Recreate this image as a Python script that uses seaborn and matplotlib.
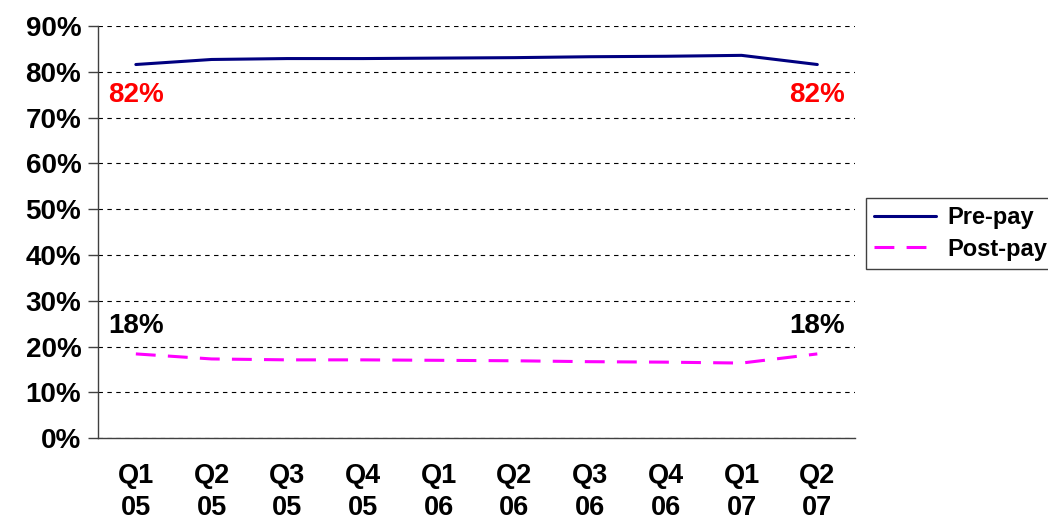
import pandas as pd
import matplotlib.pyplot as plt
import seaborn as sns
from matplotlib.ticker import FixedLocator, PercentFormatter

# Data
quarters = ["Q1\n05", "Q2\n05", "Q3\n05", "Q4\n05", "Q1\n06",
            "Q2\n06", "Q3\n06", "Q4\n06", "Q1\n07", "Q2\n07"]
pre_pay = [81.6, 82.7, 82.9, 82.9, 83.0, 83.1, 83.3, 83.4, 83.6, 81.6]
post_pay = [18.4, 17.3, 17.1, 17.1, 17.0, 16.9, 16.7, 16.6, 16.4, 18.4]
series_names = ["Pre-pay", "Post-pay"]
y_ticks = [0, 10, 20, 30, 40, 50, 60, 70, 80, 90]
end_labels = {"Pre-pay": "82%", "Post-pay": "18%"}

df = pd.DataFrame({
    "quarter": quarters * 2,
    "share": pre_pay + post_pay,
    "type": [series_names[0]] * len(quarters) + [series_names[1]] * len(quarters),
})

sns.set_style("white")
plt.rcParams["font.family"] = ["Liberation Sans", "DejaVu Sans"]
plt.rcParams["font.weight"] = "bold"
plt.rcParams["text.color"] = "black"
plt.rcParams["xtick.color"] = "black"
plt.rcParams["ytick.color"] = "black"

fig = plt.figure(figsize=(10.48, 5.21), dpi=100)
ax = fig.add_axes([0.0935, 0.159, 0.7225, 0.791])

sns.lineplot(
    data=df, x="quarter", y="share", hue="type", style="type",
    palette={"Pre-pay": "#000080", "Post-pay": "#FF00FF"},
    dashes={"Pre-pay": "", "Post-pay": (6.5, 4)},
    linewidth=2.2, sort=False, ax=ax,
)

# Axes
ax.set_xlim(-0.5, len(quarters) - 0.5)
ax.set_ylim(0, 90)
ax.set_yticks(y_ticks)
ax.yaxis.set_major_formatter(PercentFormatter(decimals=0))
ax.set_xticks(range(len(quarters)))
ax.set_xticklabels(quarters, linespacing=1.3)
ax.xaxis.set_minor_locator(FixedLocator([i - 0.5 for i in range(len(quarters) + 1)]))
ax.tick_params(axis="x", which="major", length=0, pad=18, labelsize=19.5)
ax.tick_params(axis="x", which="minor", length=7, width=1, color="#404040", direction="out")
ax.tick_params(axis="y", length=7, width=1, color="#404040", direction="out",
               pad=5, labelsize=20, left=True)
ax.set_xlabel("")
ax.set_ylabel("")

ax.grid(axis="y", linestyle=(0, (4, 4)), color="black", linewidth=0.8)
ax.grid(axis="x", visible=False)
sns.despine(ax=ax, top=True, right=True)
for side in ["left", "bottom"]:
    ax.spines[side].set_color("#404040")
    ax.spines[side].set_linewidth(1)

# End-point labels
label_style = dict(ha="center", va="center", fontsize=20, fontweight="bold")
ax.text(0, 75, end_labels["Pre-pay"], color="red", **label_style)
ax.text(len(quarters) - 1, 75, end_labels["Pre-pay"], color="red", **label_style)
ax.text(0, 24.6, end_labels["Post-pay"], color="black", **label_style)
ax.text(len(quarters) - 1, 24.6, end_labels["Post-pay"], color="black", **label_style)

# Legend without title, outside on the right
handles, labels = ax.get_legend_handles_labels()
pairs = [(h, l) for h, l in zip(handles, labels) if l in series_names]
ax.legend([p[0] for p in pairs], [p[1] for p in pairs],
          loc="upper left", bbox_to_anchor=(866 / 1048, 1 - 198 / 521),
          bbox_transform=fig.transFigure, frameon=True, fancybox=False,
          edgecolor="#404040", fontsize=17, handlelength=2.6,
          borderpad=0.35, labelspacing=0.35, handletextpad=0.5,
          borderaxespad=0, framealpha=1)
ax.get_legend().get_frame().set_linewidth(1)

plt.savefig("out.png", dpi=100)
